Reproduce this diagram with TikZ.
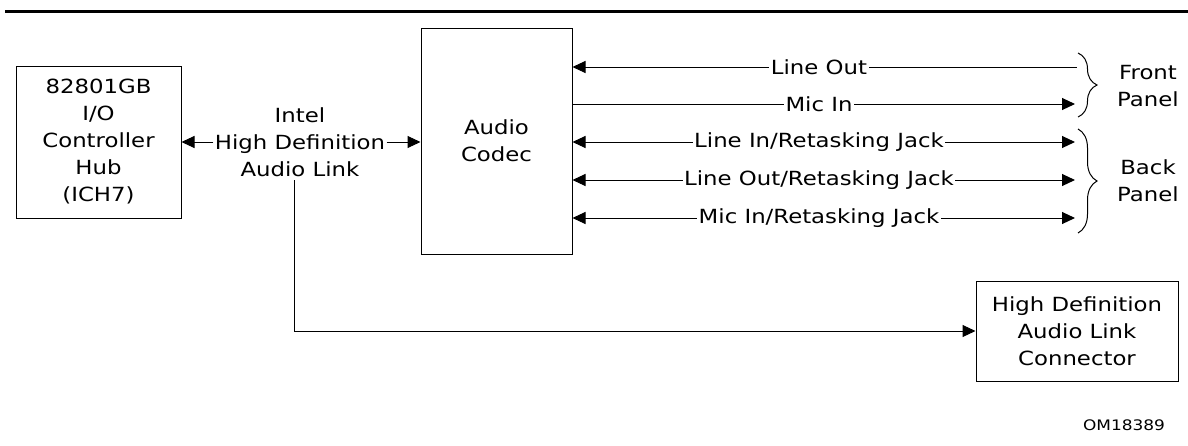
\documentclass[tikz,border=0pt]{standalone}
\usepackage{fontspec}
\setmainfont{DejaVu Sans}[FakeStretch=1.17]
\usetikzlibrary{arrows.meta,decorations.pathreplacing}
\begin{document}
\begin{tikzpicture}[x=1pt,y=-1pt,
  >={Triangle[length=13pt,width=12pt]},
  every path/.style={line width=1pt},
  txt/.style={font=\fontsize{19.5}{27}\selectfont, align=center, inner sep=1pt},
  blk/.style={draw, line width=1pt, inner sep=0pt, font=\fontsize{19.5}{27}\selectfont, align=center},
  lbl/.style={txt, fill=white, inner sep=1.5pt},
  brc/.style={decorate, decoration={brace, amplitude=19pt, aspect=0.5}, line width=1pt}]
\useasboundingbox (0,0) rectangle (1188,445);
\draw[line width=3pt] (5,11) coordinate (rl) -- (1188,11) coordinate (rr);

\node[blk, minimum width=165pt, minimum height=152pt] (ich) at (98.5,142) {82801GB\\I/O\\Controller\\Hub\\(ICH7)};
\node[blk, minimum width=151pt, minimum height=226pt] (codec) at (496.5,141) {Audio\\Codec};
\node[blk, minimum width=202pt, minimum height=100pt] (hd) at (1077,331) {High Definition\\Audio Link\\Connector};

\node[txt] (link) at (300,142) {Intel\\High Definition\\Audio Link};
\draw[->] (link.west) -- (ich.east |- link.west);
\draw[->] (link.east) -- (codec.west |- link.east);
\coordinate (vtop) at (294,180);
\draw[->] (vtop) |- (hd.west);

\coordinate (r1) at (1077,67);
\coordinate (r2) at (1075,104);
\coordinate (r3) at (1075,142);
\coordinate (r4) at (1075,180);
\coordinate (r5) at (1075,218);
\draw[<-] (codec.east |- r1) -- (r1);
\draw[->] (codec.east |- r2) -- (r2);
\draw[<->] (codec.east |- r3) -- (r3);
\draw[<->] (codec.east |- r4) -- (r4);
\draw[<->] (codec.east |- r5) -- (r5);
\node[lbl] (l1) at (819,67) {Line Out};
\node[lbl] (l2) at (819,104) {Mic In};
\node[lbl] (l3) at (819,142) {Line In/Retasking Jack};
\node[lbl] (l4) at (819,180) {Line Out/Retasking Jack};
\node[lbl] (l5) at (819,218) {Mic In/Retasking Jack};

\coordinate (fb1) at (1078,53);
\coordinate (fb2) at (1078,117);
\coordinate (bb1) at (1078,129);
\coordinate (bb2) at (1078,233);
\draw[brc] (fb1) -- (fb2);
\draw[brc] (bb1) -- (bb2);
\node[txt] (front) at (1148,86.5) {Front\\Panel};
\node[txt] (back) at (1148,180.5) {Back\\Panel};

\node[font=\fontsize{14.5}{17}\selectfont, inner sep=0pt] (om) at (1124,425) {OM18389};
\end{tikzpicture}
\end{document}
